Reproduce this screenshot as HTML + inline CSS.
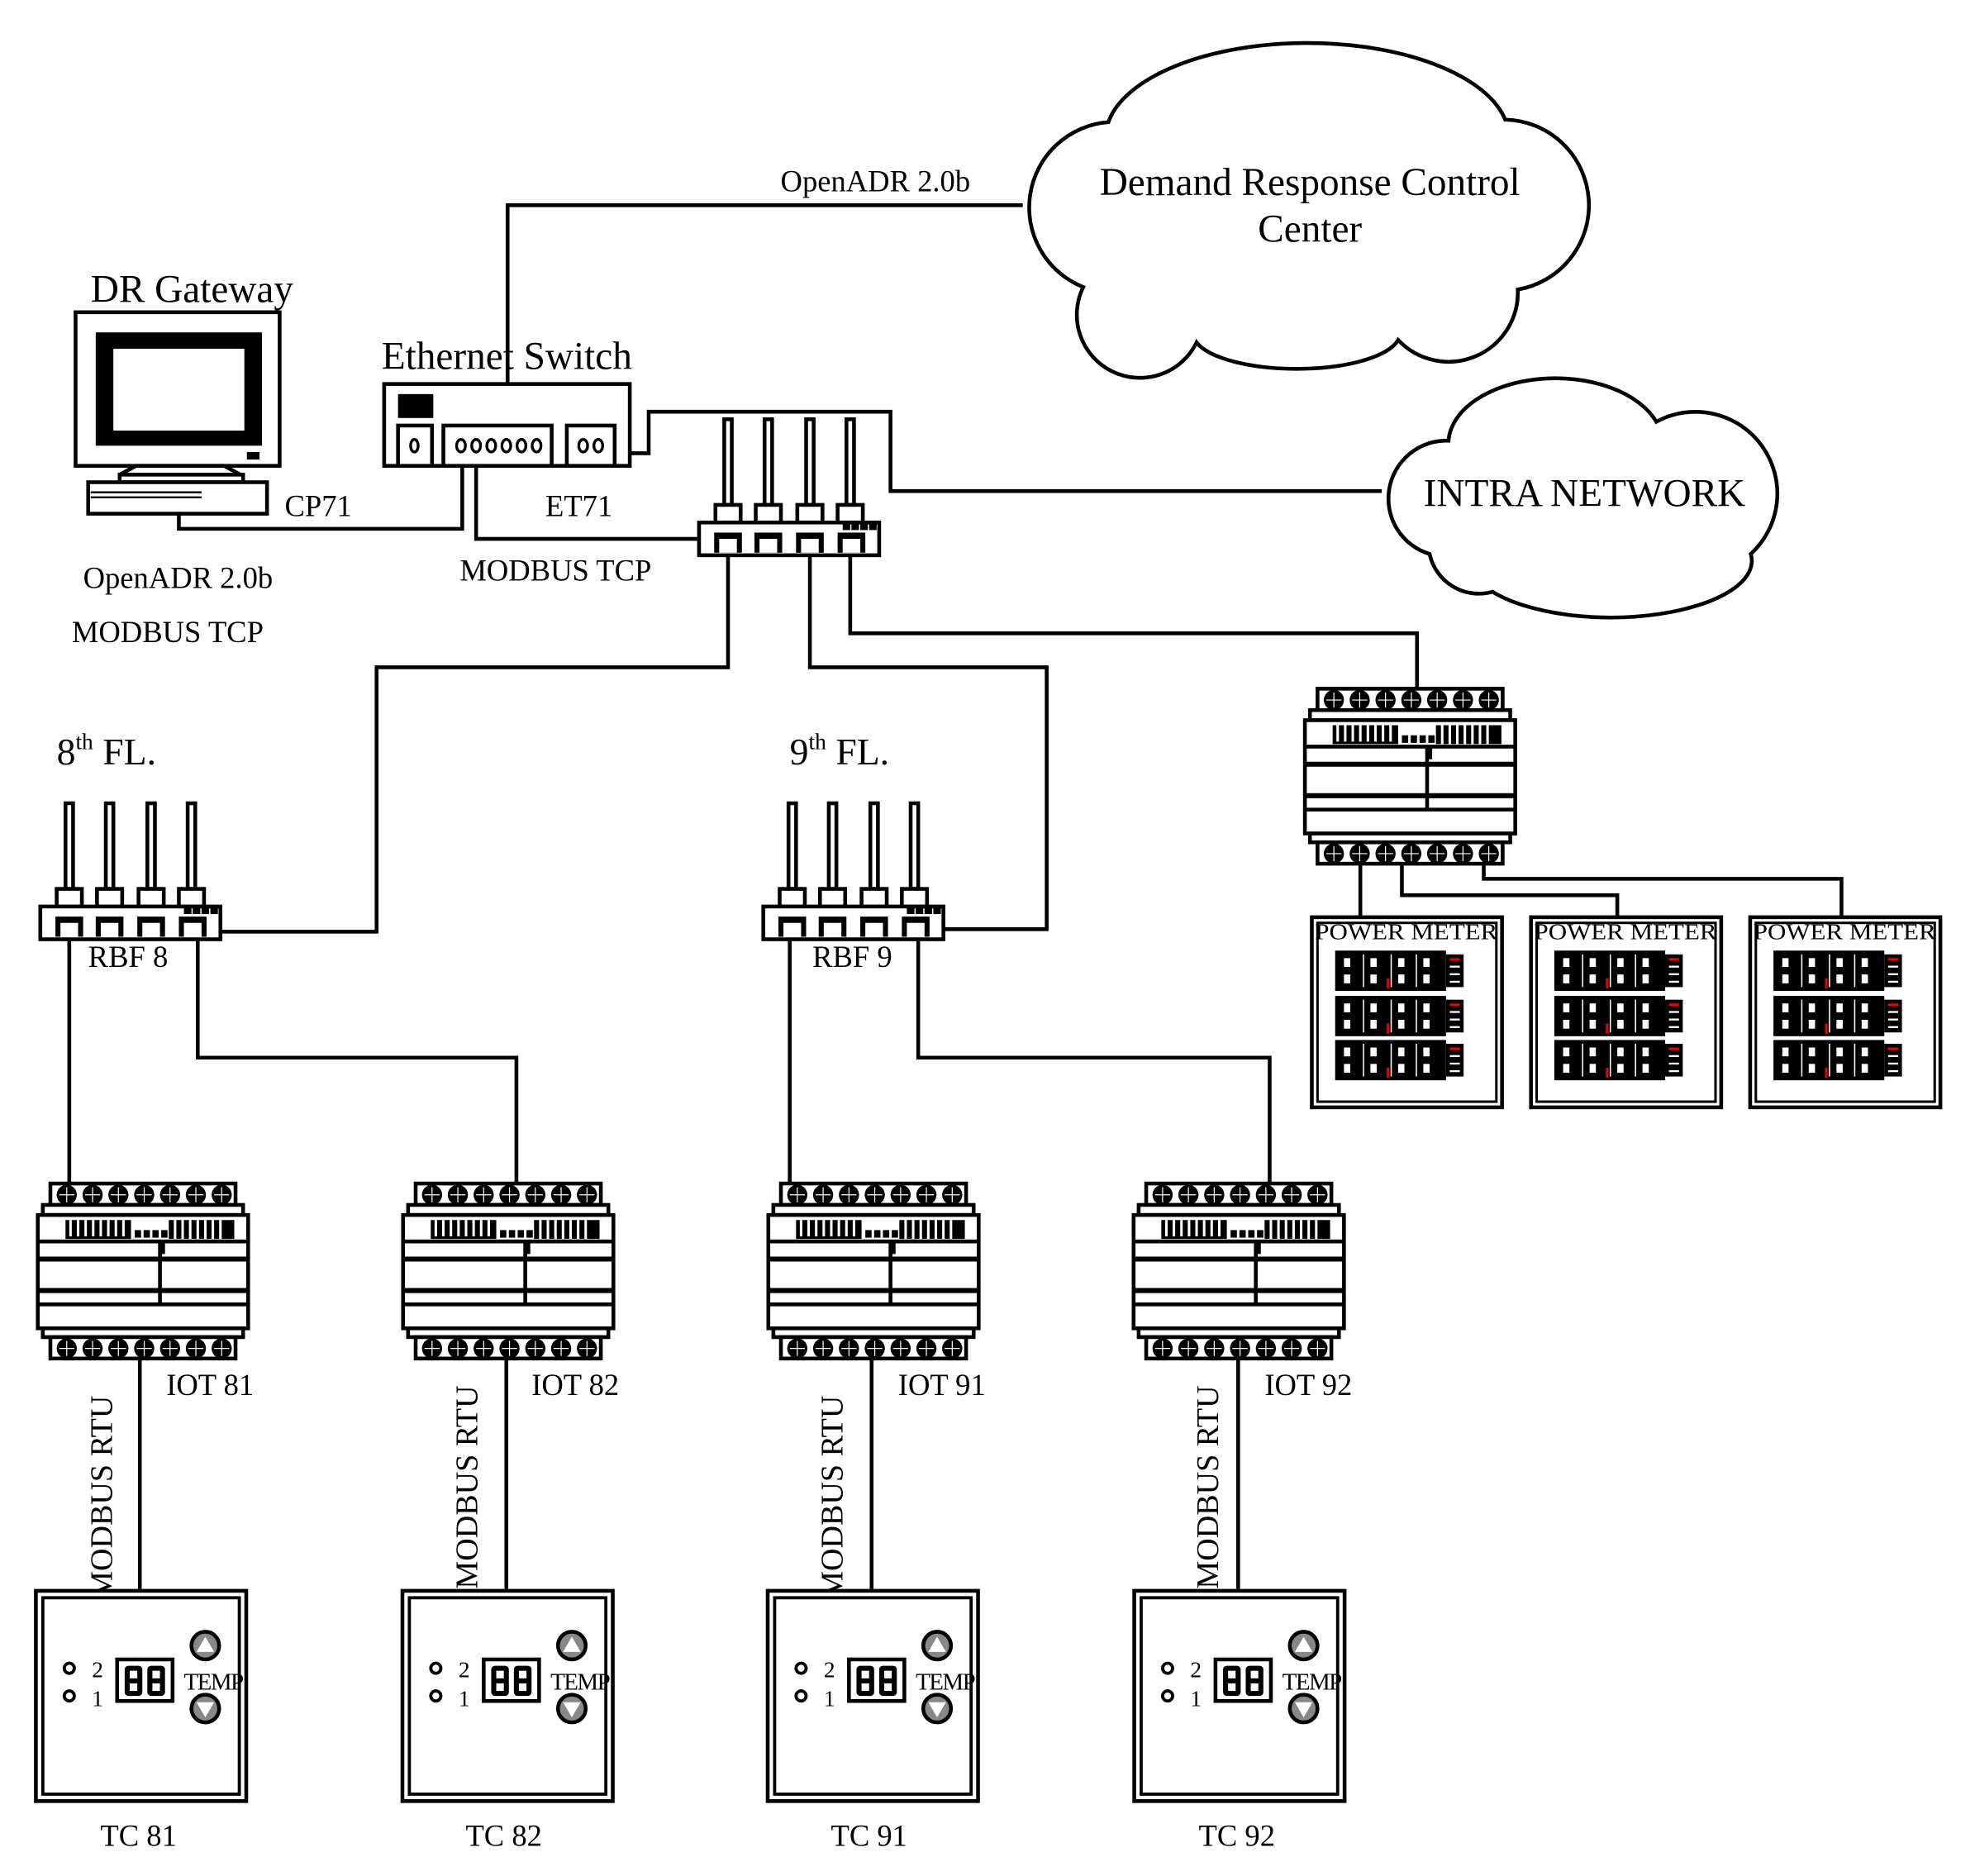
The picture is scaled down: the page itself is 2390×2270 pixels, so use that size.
<!DOCTYPE html>
<html><head><meta charset="utf-8"><style>
html,body{margin:0;padding:0;background:#fff;}
svg{display:block;}
text{font-family:"Liberation Serif",serif;fill:#000;}
</style></head><body>
<svg width="2390" height="2270" viewBox="0 0 1568 1490" preserveAspectRatio="none" xmlns="http://www.w3.org/2000/svg">
<defs>
<g id="strip">
  <rect x="10" y="0" width="147" height="17" fill="#fff" stroke="#000" stroke-width="3"/>
  <g fill="#000">
    <circle cx="23" cy="9" r="8"/><circle cx="43.5" cy="9" r="8"/><circle cx="64" cy="9" r="8"/><circle cx="84.5" cy="9" r="8"/><circle cx="105" cy="9" r="8"/><circle cx="125.5" cy="9" r="8"/><circle cx="146" cy="9" r="8"/>
  </g>
  <g stroke="#fff" stroke-width="0.8">
    <path d="M23 3v12M17 9h12M43.5 3v12M37.5 9h12M64 3v12M58 9h12M84.5 3v12M78.5 9h12M105 3v12M99 9h12M125.5 3v12M119.5 9h12M146 3v12M140 9h12"/>
  </g>
</g>
<g id="iot">
  <use href="#strip"/>
  <rect x="4" y="17" width="159" height="8" fill="#fff" stroke="#000" stroke-width="3"/>
  <rect x="0" y="25" width="167" height="90" fill="#fff" stroke="#000" stroke-width="3"/>
  <rect x="22" y="29" width="52" height="15" fill="#000"/>
  <g fill="#fff"><rect x="25" y="29" width="2" height="13"/><rect x="31" y="29" width="2" height="13"/><rect x="37" y="29" width="2" height="13"/><rect x="43" y="29" width="2" height="13"/><rect x="49" y="29" width="2" height="13"/><rect x="55" y="29" width="2" height="13"/><rect x="61" y="29" width="2" height="13"/><rect x="67" y="29" width="2" height="13"/></g>
  <g fill="#000"><rect x="77" y="37" width="5" height="6"/><rect x="84" y="37" width="5" height="6"/><rect x="91" y="37" width="5" height="6"/><rect x="98" y="37" width="5" height="6"/></g>
  <rect x="104" y="29" width="52" height="15" fill="#000"/>
  <g fill="#fff"><rect x="108" y="29" width="2" height="15"/><rect x="114" y="29" width="2" height="15"/><rect x="120" y="29" width="2" height="15"/><rect x="126" y="29" width="2" height="15"/><rect x="132" y="29" width="2" height="15"/><rect x="138" y="29" width="2" height="15"/><rect x="144" y="29" width="2" height="15"/></g>
  <rect x="96" y="46" width="5" height="10" fill="#000"/>
  <g stroke="#000" fill="none">
    <path d="M0 46h167" stroke-width="3"/>
    <path d="M0 60h167" stroke-width="4"/>
    <path d="M0 85h167" stroke-width="4"/>
    <path d="M0 96h167" stroke-width="3"/>
    <path d="M97 46v50" stroke-width="3"/>
  </g>
  <rect x="4" y="115" width="159" height="7" fill="#fff" stroke="#000" stroke-width="3"/>
  <use href="#strip" y="122"/>
</g>
<g id="router">
  <g fill="#fff" stroke="#000" stroke-width="3">
    <rect x="20" y="-82" width="6" height="68"/><rect x="52" y="-82" width="6" height="68"/><rect x="85" y="-82" width="6" height="68"/><rect x="117" y="-82" width="6" height="68"/>
    <rect x="13" y="-14" width="20" height="14"/><rect x="45" y="-14" width="20" height="14"/><rect x="78" y="-14" width="20" height="14"/><rect x="110" y="-14" width="20" height="14"/>
    <rect x="0" y="0" width="143" height="26"/>
  </g>
  <g fill="#000">
    <rect x="12" y="8" width="22" height="16"/><rect x="44" y="8" width="22" height="16"/><rect x="77" y="8" width="22" height="16"/><rect x="110" y="8" width="22" height="16"/>
    <rect x="114" y="1" width="6" height="5"/><rect x="121" y="1" width="6" height="5"/><rect x="128" y="1" width="6" height="5"/><rect x="135" y="1" width="6" height="5"/>
  </g>
  <g fill="#fff"><rect x="16" y="13" width="14" height="11"/><rect x="48" y="13" width="14" height="11"/><rect x="81" y="13" width="14" height="11"/><rect x="114" y="13" width="14" height="11"/></g>
</g>
<clipPath id="tcclip"><rect x="0" y="0" width="166" height="170"/></clipPath>
<g id="tc">
  <rect x="1.5" y="1.5" width="167" height="167" fill="#fff" stroke="#000" stroke-width="3"/>
  <rect x="7" y="7" width="156" height="156" fill="none" stroke="#000" stroke-width="2.5"/>
  <circle cx="28" cy="63" r="4" fill="#fff" stroke="#000" stroke-width="2.5"/>
  <circle cx="28" cy="85" r="4" fill="#fff" stroke="#000" stroke-width="2.5"/>
  <text x="46" y="70" font-size="18">2</text>
  <text x="46" y="93" font-size="18">1</text>
  <rect x="66" y="56" width="44" height="33" fill="#fff" stroke="#000" stroke-width="3"/>
  <g fill="#000"><rect x="72" y="61" width="14" height="24" rx="3"/><rect x="90" y="61" width="14" height="24" rx="3"/></g>
  <g fill="#fff"><rect x="76" y="65" width="6" height="6"/><rect x="76" y="75" width="6" height="6"/><rect x="94" y="65" width="6" height="6"/><rect x="94" y="75" width="6" height="6"/></g>
  <circle cx="136" cy="45" r="11" fill="#888" stroke="#000" stroke-width="3"/>
  <path d="M129 50h14l-7-12z" fill="#fff"/>
  <circle cx="136" cy="95" r="11" fill="#888" stroke="#000" stroke-width="3"/>
  <path d="M129 90h14l-7 12z" fill="#fff"/>
  <g clip-path="url(#tcclip)"><text x="119" y="80" font-size="19" letter-spacing="-1">TEMP</text></g>
</g>
<g id="disp">
  <rect x="0" y="0" width="88" height="32" fill="#000"/>
  <g fill="#fff">
    <rect x="7" y="6" width="5" height="7"/><rect x="7" y="19" width="5" height="7"/>
    <rect x="28" y="6" width="5" height="7"/><rect x="28" y="19" width="5" height="7"/>
    <rect x="50" y="6" width="5" height="7"/><rect x="50" y="19" width="5" height="7"/>
    <rect x="70" y="6" width="5" height="7"/><rect x="70" y="19" width="5" height="7"/>
    <rect x="22" y="3" width="1" height="26"/><rect x="44" y="3" width="1" height="26"/><rect x="64" y="3" width="1" height="26"/>
  </g>
  <rect x="41" y="22" width="2" height="8" fill="#e00"/>
  <rect x="88" y="3" width="14" height="26" fill="#000"/>
  <rect x="91" y="6" width="8" height="2" fill="#e00"/>
  <g fill="#fff"><rect x="91" y="12" width="8" height="1.5"/><rect x="91" y="18" width="8" height="1.5"/><rect x="91" y="24" width="8" height="1.5"/></g>
</g>
<g id="pm">
  <rect x="1.5" y="1.5" width="151" height="151" fill="#fff" stroke="#000" stroke-width="3"/>
  <rect x="6" y="6" width="142" height="142" fill="none" stroke="#000" stroke-width="2"/>
  <text x="4" y="19" font-size="18" textLength="145" lengthAdjust="spacingAndGlyphs">POWER METER</text>
  <use href="#disp" x="20" y="28"/>
  <use href="#disp" x="20" y="64"/>
  <use href="#disp" x="20" y="99"/>
</g>
</defs>

<!-- clouds -->
<path d="M860 228 A68 68 0 0 1 880 97 A160 75 0 0 1 1195 95 A68 68 0 0 1 1205 230 A55 55 0 0 1 1110 270 A82 28 0 0 1 950 272 A50 50 0 0 1 860 228 Z" fill="#fff" stroke="#000" stroke-width="3"/>
<text x="1040" y="155" font-size="31" text-anchor="middle">Demand Response Control</text>
<text x="1040" y="192" font-size="31" text-anchor="middle">Center</text>
<path d="M1135 440 A46 46 0 0 1 1150 350 A85 52 0 0 1 1315 335 A65 65 0 0 1 1390 440 A112 45 0 0 1 1185 470 A40 40 0 0 1 1135 440 Z" fill="#fff" stroke="#000" stroke-width="3"/>
<text x="1258" y="402" font-size="31" text-anchor="middle">INTRA NETWORK</text>

<!-- connectors -->
<g fill="none" stroke="#000" stroke-width="3">
  <path d="M403 305V163H812"/>
  <path d="M488 360H515V327H707V390H1097"/>
  <path d="M142 408V420H367V350"/>
  <path d="M378 350V428H555"/>
  <path d="M578 440V530H299V740H175"/>
  <path d="M643 440V530H831V738H748"/>
  <path d="M675 440V503H1125V548"/>
  <path d="M55 746V940"/>
  <path d="M157 746V840H410V940"/>
  <path d="M627 746V940"/>
  <path d="M729 746V840H1008V940"/>
  <path d="M111 1080V1262"/><path d="M402 1080V1262"/><path d="M692 1080V1262"/><path d="M983 1080V1262"/>
  <path d="M1080 687V727"/>
  <path d="M1113 687V711H1284V727"/>
  <path d="M1178 687V698H1462V727"/>
</g>

<!-- labels -->
<text x="695" y="152" font-size="24" text-anchor="middle">OpenADR 2.0b</text>
<text x="72" y="240" font-size="31">DR Gateway</text>
<text x="303" y="293" font-size="31">Ethernet Switch</text>
<text x="226" y="410" font-size="24">CP71</text>
<text x="433" y="410" font-size="24">ET71</text>
<text x="365" y="461" font-size="24">MODBUS TCP</text>
<text x="66" y="467" font-size="24">OpenADR 2.0b</text>
<text x="57" y="510" font-size="24">MODBUS TCP</text>
<text x="45" y="607" font-size="30">8<tspan font-size="18" dy="-12">th</tspan><tspan dy="12"> FL.</tspan></text>
<text x="627" y="607" font-size="30">9<tspan font-size="18" dy="-12">th</tspan><tspan dy="12"> FL.</tspan></text>
<text x="70" y="768" font-size="24">RBF 8</text>
<text x="645" y="768" font-size="24">RBF 9</text>

<!-- PC -->
<g stroke="#000" stroke-width="3" fill="#fff">
  <rect x="60" y="248" width="162" height="122"/>
  <path d="M95 377L108 370H178L191 377Z"/>
  <rect x="95" y="377" width="98" height="6"/>
  <rect x="70" y="383" width="142" height="25"/>
</g>
<rect x="76" y="264" width="132" height="90" fill="#000"/>
<rect x="90" y="277" width="104" height="65" fill="#fff"/>
<rect x="196" y="359" width="10" height="6" fill="#000"/>
<path d="M72 391H160M72 395H160" stroke="#000" stroke-width="1.5"/>

<!-- switch -->
<g stroke="#000" stroke-width="3" fill="#fff">
  <rect x="305" y="305" width="195" height="65"/>
  <rect x="316" y="338" width="27" height="32"/>
  <rect x="352" y="338" width="86" height="32"/>
  <rect x="450" y="338" width="38" height="32"/>
</g>
<rect x="316" y="313" width="28" height="19" fill="#000"/>
<g fill="none" stroke="#000" stroke-width="2.2">
  <ellipse cx="329" cy="354" rx="3" ry="5"/>
  <ellipse cx="366" cy="354" rx="3.5" ry="5"/><ellipse cx="378" cy="354" rx="3.5" ry="5"/><ellipse cx="390" cy="354" rx="3.5" ry="5"/><ellipse cx="402" cy="354" rx="3.5" ry="5"/><ellipse cx="414" cy="354" rx="3.5" ry="5"/><ellipse cx="426" cy="354" rx="3.5" ry="5"/>
  <ellipse cx="463" cy="354" rx="3.5" ry="5"/><ellipse cx="475" cy="354" rx="3.5" ry="5"/>
</g>

<!-- routers -->
<use href="#router" x="555" y="415"/>
<use href="#router" x="32" y="720"/>
<use href="#router" x="606" y="720"/>

<!-- IOT modules -->
<use href="#iot" x="30" y="940"/>
<use href="#iot" x="320" y="940"/>
<use href="#iot" x="610" y="940"/>
<use href="#iot" x="900" y="940"/>
<use href="#iot" x="1036" y="547"/>
<text x="132" y="1108" font-size="24">IOT 81</text>
<text x="422" y="1108" font-size="24">IOT 82</text>
<text x="713" y="1108" font-size="24">IOT 91</text>
<text x="1004" y="1108" font-size="24">IOT 92</text>

<!-- MODBUS RTU rotated -->
<text font-size="25" transform="translate(89,1270) rotate(-90)">MODBUS RTU</text>
<text font-size="25" transform="translate(379,1262) rotate(-90)">MODBUS RTU</text>
<text font-size="25" transform="translate(669,1270) rotate(-90)">MODBUS RTU</text>
<text font-size="25" transform="translate(967,1262) rotate(-90)">MODBUS RTU</text>

<!-- thermostats -->
<use href="#tc" x="27" y="1262"/>
<use href="#tc" x="318" y="1262"/>
<use href="#tc" x="608" y="1262"/>
<use href="#tc" x="899" y="1262"/>
<text x="110" y="1466" font-size="24" text-anchor="middle">TC 81</text>
<text x="400" y="1466" font-size="24" text-anchor="middle">TC 82</text>
<text x="690" y="1466" font-size="24" text-anchor="middle">TC 91</text>
<text x="982" y="1466" font-size="24" text-anchor="middle">TC 92</text>

<!-- power meters -->
<use href="#pm" x="1040" y="727"/>
<use href="#pm" x="1214" y="727"/>
<use href="#pm" x="1388" y="727"/>
</svg>
</body></html>
